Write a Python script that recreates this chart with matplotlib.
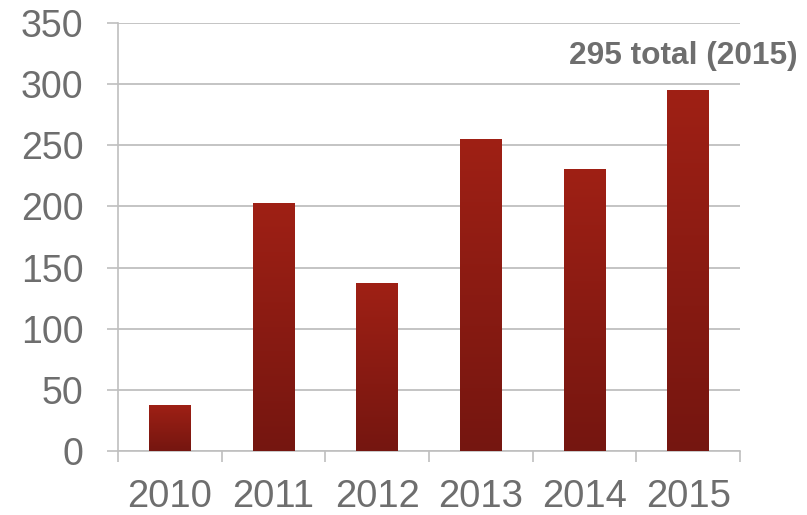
import numpy as np
import matplotlib.pyplot as plt
from matplotlib.colors import LinearSegmentedColormap

years = ["2010", "2011", "2012", "2013", "2014", "2015"]
counts = [38, 203, 137, 255, 231, 295]
y_ticks = [0, 50, 100, 150, 200, 250, 300, 350]
note = "295 total (2015)"

grid_col = "#bfbfbf"
text_col = "#6e6e6e"
bar_cmap = LinearSegmentedColormap.from_list("bar", ["#751610", "#9f2015"])

plt.rcParams['font.family'] = ['Liberation Sans', 'DejaVu Sans']

fig = plt.figure(figsize=(8.07, 5.15), dpi=100)
ax = fig.add_axes([118 / 807, 1 - 451 / 515, 622 / 807, 428 / 515])

x = np.arange(len(years))
bars = ax.bar(x, counts, width=0.4, color="#8a1b12", zorder=2)

# vertical gradient on each bar, dark at the bottom
grad = np.linspace(0, 1, 256).reshape(-1, 1)
for b in bars:
    x0, w, h = b.get_x(), b.get_width(), b.get_height()
    im = ax.imshow(grad, cmap=bar_cmap, origin="lower", aspect="auto",
                   extent=[x0, x0 + w, 0, h], zorder=3)
    im.set_clip_path(b)

ax.set_xlim(-0.5, len(years) - 0.5)
ax.set_ylim(0, 350)
ax.set_yticks(y_ticks)
ax.set_yticklabels([str(v) for v in y_ticks])

# labels centred, tick marks on the category boundaries
ax.set_xticks(x)
ax.set_xticklabels(years)
ax.set_xticks(np.arange(len(years) + 1) - 0.5, minor=True)
ax.tick_params(axis="x", which="major", length=0, pad=20, labelsize=27.5, labelcolor=text_col)
ax.tick_params(axis="x", which="minor", length=8, width=1.2, color=grid_col, direction="out")
ax.tick_params(axis="y", length=8, width=1.2, color=grid_col, pad=17, labelsize=27, labelcolor=text_col)

ax.grid(axis="y", color=grid_col, linewidth=1.3, zorder=0)
ax.set_axisbelow(True)
for side in ["top", "right"]:
    ax.spines[side].set_visible(False)
for side in ["left", "bottom"]:
    ax.spines[side].set_color(grid_col)
    ax.spines[side].set_linewidth(1.2)

ax.text(len(years) - 0.5 + 58 / 103.67, 323, note, ha="right", va="center",
        fontsize=22.8, fontweight="bold", color=text_col)

fig.savefig("out.png", dpi=100)
